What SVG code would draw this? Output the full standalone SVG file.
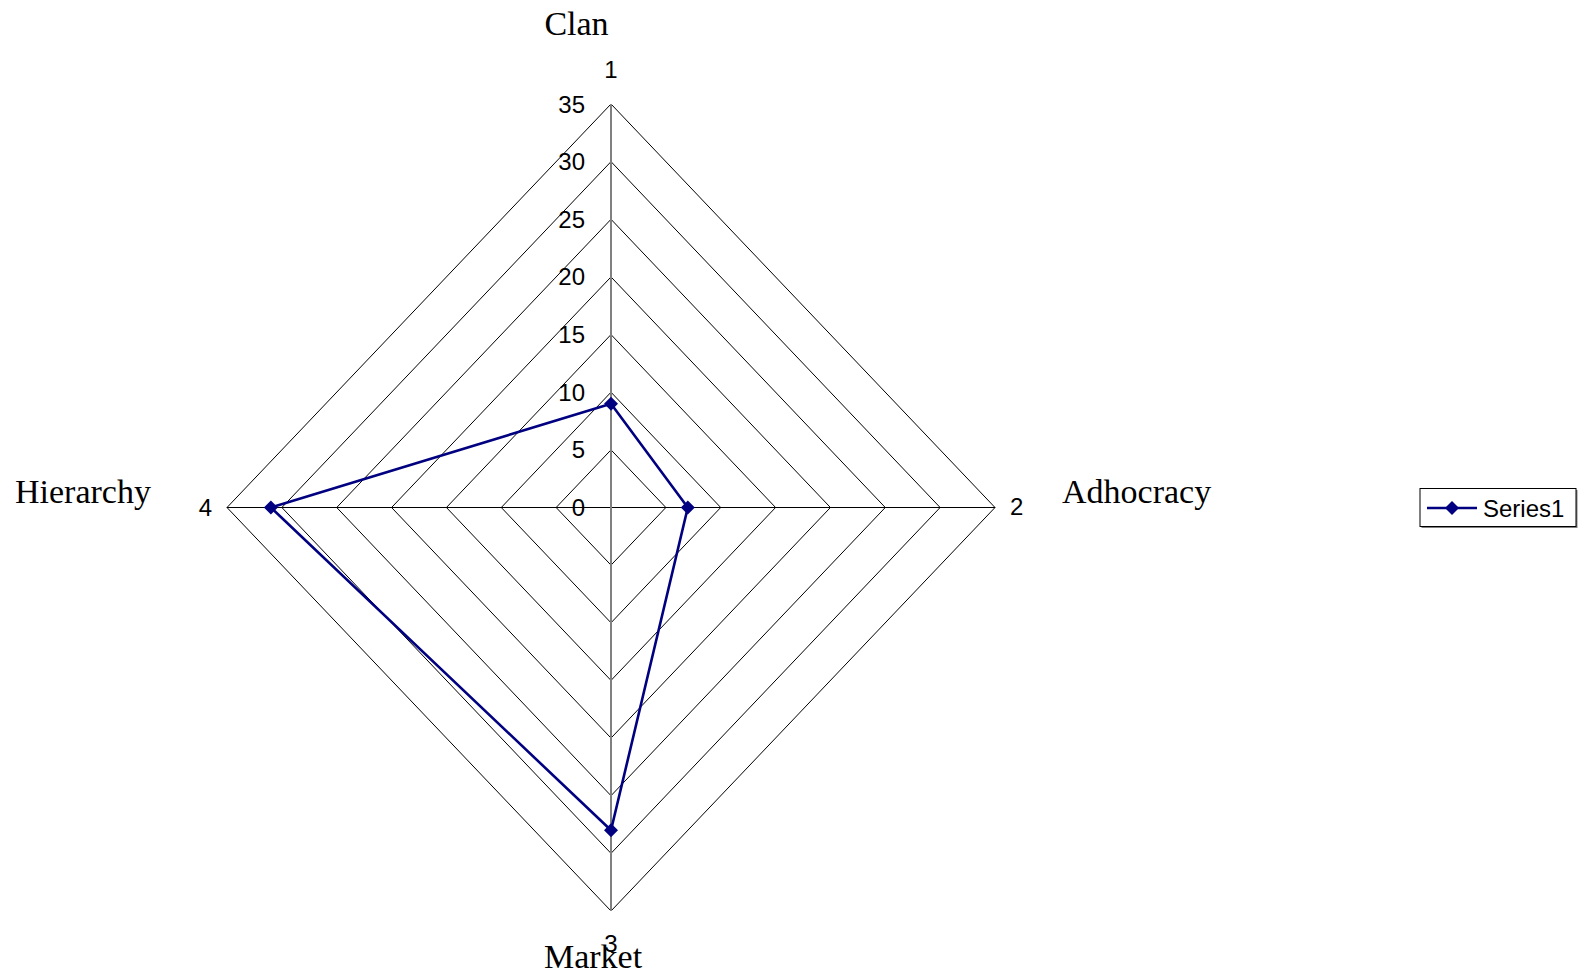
<svg xmlns="http://www.w3.org/2000/svg" width="1585" height="980" viewBox="0 0 1585 980">
  <style>
    .ring { fill: none; stroke: #000; stroke-width: 1; }
    .tick { font-family: "Liberation Sans", Arial, sans-serif; font-size: 24px; fill: #000; }
    .cat { font-family: "Liberation Serif", "Times New Roman", serif; font-size: 34px; fill: #000; }
    .series { fill: none; stroke: #000080; stroke-width: 2.6; stroke-linejoin: round; }
  </style>
  <defs>
    <path id="diamond" d="M0,-7 L7,0 L0,7 L-7,0 Z" fill="#000080"/>
  </defs>
  <rect width="1585" height="980" fill="#fff"/>

  <!-- radar grid: rings at 5-unit steps, centre (611,507.5) -->
  <g id="grid">
    <polygon class="ring" points="611,449.86 665.86,507.5 611,565.14 556.14,507.5"/>
    <polygon class="ring" points="611,392.21 720.71,507.5 611,622.79 501.29,507.5"/>
    <polygon class="ring" points="611,334.57 775.57,507.5 611,680.43 446.43,507.5"/>
    <polygon class="ring" points="611,276.93 830.43,507.5 611,738.07 391.57,507.5"/>
    <polygon class="ring" points="611,219.29 885.29,507.5 611,795.71 336.71,507.5"/>
    <polygon class="ring" points="611,161.64 940.14,507.5 611,853.36 281.86,507.5"/>
    <polygon class="ring" points="611,104 995,507.5 611,911 227,507.5"/>
    <line x1="227" y1="507.5" x2="995" y2="507.5" stroke="#000" stroke-width="1"/>
    <line x1="611" y1="104" x2="611" y2="911" stroke="#808080" stroke-width="2"/>
  </g>

  <!-- value axis labels -->
  <g id="value-axis" class="tick" text-anchor="end">
    <text x="585" y="516">0</text>
    <text x="585" y="458.4">5</text>
    <text x="585" y="400.7">10</text>
    <text x="585" y="343.1">15</text>
    <text x="585" y="285.4">20</text>
    <text x="585" y="227.8">25</text>
    <text x="585" y="170.1">30</text>
    <text x="585" y="112.5">35</text>
  </g>

  <!-- category numbers -->
  <g id="category-numbers" class="tick">
    <text x="611" y="78" text-anchor="middle">1</text>
    <text x="1010" y="515">2</text>
    <text x="611" y="952" text-anchor="middle">3</text>
    <text x="212" y="516" text-anchor="end">4</text>
  </g>

  <!-- category titles -->
  <g id="node-clan"><text class="cat" x="576.5" y="35" text-anchor="middle">Clan</text></g>
  <g id="node-adhocracy"><text class="cat" x="1062" y="503">Adhocracy</text></g>
  <g id="node-market"><text class="cat" x="593" y="968" text-anchor="middle">Market</text></g>
  <g id="node-hierarchy"><text class="cat" x="15" y="503">Hierarchy</text></g>

  <!-- data series -->
  <g id="connectors">
    <polygon class="series" points="611,403.7 687.8,507.5 611,830.3 270.9,507.5"/>
  </g>
  <g id="markers">
    <use href="#diamond" x="611" y="403.7"/>
    <use href="#diamond" x="687.8" y="507.5"/>
    <use href="#diamond" x="611" y="830.3"/>
    <use href="#diamond" x="270.9" y="507.5"/>
  </g>

  <!-- legend -->
  <g id="legend">
    <rect x="1421.5" y="490" width="156" height="38" fill="#808080"/>
    <rect x="1420" y="488.5" width="156" height="38" fill="#fff" stroke="#000" stroke-width="1"/>
    <line x1="1427" y1="508" x2="1477" y2="508" stroke="#000080" stroke-width="2.6"/>
    <use href="#diamond" x="1452" y="508"/>
    <text class="tick" x="1483" y="516.5">Series1</text>
  </g>
</svg>
